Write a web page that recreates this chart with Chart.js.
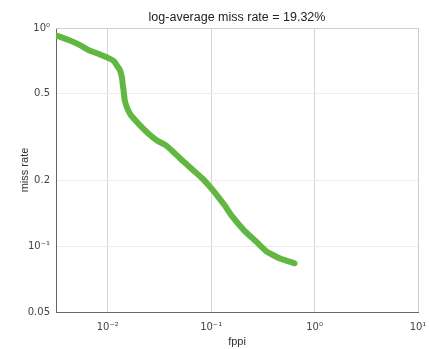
<!DOCTYPE html>
<html>
<head>
<meta charset="utf-8">
<script src="https://cdn.jsdelivr.net/npm/chart.js@4"></script>
<style>
  html, body { margin: 0; padding: 0; background: #fff; }
  #wrap { width: 429px; height: 349px; }
</style>
</head>
<body>
<div id="wrap"><canvas id="myChart" width="429" height="349"></canvas></div>
<script>
// curva miss rate vs fppi
const fppi = [0.0032, 0.0042, 0.0054, 0.0065, 0.0082, 0.0102, 0.0115, 0.0122, 0.0131, 0.0137, 0.0140, 0.0143, 0.0146, 0.0153, 0.0167, 0.0200, 0.0250, 0.0300, 0.0366, 0.0440, 0.0523, 0.0650, 0.0818, 0.0960, 0.112, 0.135, 0.160, 0.209, 0.273, 0.342, 0.400, 0.457, 0.550, 0.640];
const missRate = [0.924, 0.881, 0.835, 0.793, 0.760, 0.728, 0.705, 0.676, 0.642, 0.596, 0.548, 0.509, 0.468, 0.434, 0.399, 0.363, 0.327, 0.305, 0.290, 0.268, 0.248, 0.226, 0.205, 0.189, 0.173, 0.154, 0.137, 0.118, 0.105, 0.0948, 0.0910, 0.0881, 0.0855, 0.0836];

const xTicks = [0.01, 0.1, 1, 10];
const xTickLabels = ["10\u207B\u00B2", "10\u207B\u00B9", "10\u2070", "10\u00B9"];
const yTicks = [0.05, 0.1, 0.2, 0.5, 1];
const yTickLabels = ["0.05", "10\u207B\u00B9", "0.2", "0.5", "10\u2070"];

const tituloGrafico = "log-average miss rate = 19.32%";

// marco gris claro arriba y a la derecha
const marcoPlugin = {
  id: "marco",
  afterDraw(chart) {
    const { ctx, chartArea } = chart;
    ctx.save();
    ctx.strokeStyle = "#cfcfcf";
    ctx.lineWidth = 1;
    ctx.beginPath();
    ctx.moveTo(chartArea.left, chartArea.top + 0.5);
    ctx.lineTo(chartArea.right + 0.5, chartArea.top + 0.5);
    ctx.lineTo(chartArea.right + 0.5, chartArea.bottom);
    ctx.stroke();
    ctx.restore();
  },
};

const config = {
  type: "line",
  data: {
    datasets: [
      {
        data: fppi.map((f, i) => ({ x: f, y: missRate[i] })),
        borderColor: "rgb(98, 182, 66)",
        borderWidth: 6,
        pointRadius: 0,
        fill: false,
        tension: 0.2,
        borderCapStyle: "round",
        borderJoinStyle: "round",
      },
    ],
  },
  options: {
    responsive: false,
    animation: false,
    layout: { padding: { left: 0, right: 0, top: 0, bottom: 0 } },
    plugins: {
      legend: { display: false },
      tooltip: { enabled: false },
      title: {
        display: true,
        fullSize: false, // centrado sobre el área del gráfico
        text: tituloGrafico,
        color: "#222",
        font: { family: "Liberation Sans", size: 12.5, weight: "normal" },
        padding: { top: 10, bottom: 3 },
      },
    },
    scales: {
      x: {
        type: "logarithmic",
        min: Math.pow(10, -2.5),
        max: 10,
        afterBuildTicks: (scale) => {
          scale.ticks = xTicks.map((v) => ({ value: v }));
        },
        afterFit: (scale) => {
          scale.height = 37;
          scale.paddingLeft = 0;
          scale.paddingRight = 11;
        },
        ticks: {
          autoSkip: false,
          maxRotation: 0,
          padding: 9,
          color: "#444",
          font: { family: "DejaVu Sans", size: 10 },
          callback: (v) => xTickLabels[xTicks.indexOf(v)],
        },
        grid: { color: "#d4d4d4", drawTicks: false },
        border: { color: "#666", width: 1 },
        title: {
          display: true,
          text: "fppi",
          color: "#333",
          font: { family: "Liberation Sans", size: 11 },
          padding: { top: 0, bottom: 0 },
        },
      },
      y: {
        type: "logarithmic",
        min: 0.05,
        max: 1,
        afterBuildTicks: (scale) => {
          scale.ticks = yTicks.map((v) => ({ value: v }));
        },
        afterFit: (scale) => {
          scale.width = 56;
        },
        ticks: {
          autoSkip: false,
          padding: 6,
          color: "#444",
          font: { family: "DejaVu Sans", size: 10 },
          callback: (v) => yTickLabels[yTicks.indexOf(v)],
        },
        grid: { color: "#ececec", drawTicks: false },
        border: { color: "#666", width: 1 },
        title: {
          display: true,
          text: "miss rate",
          color: "#333",
          font: { family: "Liberation Sans", size: 11 },
          padding: { top: 18, bottom: 0 },
        },
      },
    },
  },
  plugins: [marcoPlugin],
};

const chartDOM = document.getElementById("myChart");
new Chart(chartDOM, config);
</script>
</body>
</html>
